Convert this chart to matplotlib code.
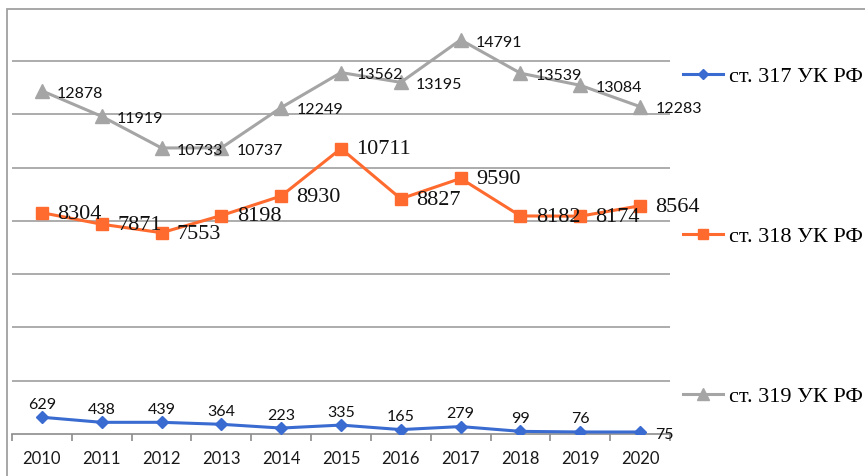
import matplotlib
matplotlib.use("Agg")
import matplotlib.pyplot as plt
from matplotlib.patches import Rectangle

years = ["2010", "2011", "2012", "2013", "2014", "2015", "2016", "2017", "2018", "2019", "2020"]
s317 = [629, 438, 439, 364, 223, 335, 165, 279, 99, 76, 75]
s318 = [8304, 7871, 7553, 8198, 8930, 10711, 8827, 9590, 8182, 8174, 8564]
s319 = [12878, 11919, 10733, 10737, 12249, 13562, 13195, 14791, 13539, 13084, 12283]
names = ["ст. 317 УК РФ", "ст. 318 УК РФ", "ст. 319 УК РФ"]

c_blue = "#3A6BD0"
c_orange = "#FF6A2F"
c_gray = "#A5A5A5"

fig = plt.figure(figsize=(8.65, 4.76), dpi=100)
fig.patch.set_facecolor("white")
ax = fig.add_axes([12/865, 1-434/476, (670-12)/865, (434-7.6)/476])
ax.set_facecolor("none")

x = list(range(len(years)))
ax.set_xlim(-0.5, len(years)-0.5)
ax.set_ylim(0, 16000)

ax.set_yticks(range(2000, 16000, 2000))
ax.yaxis.grid(True, color="#A6A6A6", linewidth=1.3)
ax.tick_params(axis="y", left=False, labelleft=False)
for s in ["top", "right", "left"]:
    ax.spines[s].set_visible(False)
ax.spines["bottom"].set_color("#8C8C8C")
ax.spines["bottom"].set_linewidth(1.2)
ax.set_xticks(x)
ax.set_xticklabels(years, fontfamily="Lato", fontsize=12, color="#1a1a1a")
ax.set_xticks([i - 0.5 for i in range(len(years)+1)], minor=True)
ax.tick_params(axis="x", which="major", length=0, pad=12)
ax.tick_params(axis="x", which="minor", length=5, color="#8C8C8C", width=1.2, direction="out")
ax.set_axisbelow(True)

l3, = ax.plot(x, s319, color=c_gray, linewidth=2.2, marker="^", markersize=10, zorder=3)
l2, = ax.plot(x, s318, color=c_orange, linewidth=2.2, marker="s", markersize=8.5, zorder=3)
l1, = ax.plot(x, s317, color=c_blue, linewidth=2.2, marker="D", markersize=6.5, zorder=3)

for xi, v in zip(x, s319):
    ax.annotate(str(v), (xi, v), xytext=(11, -2), textcoords="offset points",
                ha="left", va="center", fontfamily="Lato", fontsize=11.5, color="#111111")
for xi, v in zip(x, s318):
    ax.annotate(str(v), (xi, v), xytext=(11, -1), textcoords="offset points",
                ha="left", va="center", fontfamily="Liberation Serif", fontsize=16, color="#111111")
for i, (xi, v) in enumerate(zip(x, s317)):
    if i == len(x) - 1:
        ax.annotate(str(v), (xi, v), xytext=(11, -2), textcoords="offset points",
                    ha="left", va="center", fontfamily="Lato", fontsize=11.5, color="#111111")
    else:
        ax.annotate(str(v), (xi, v), xytext=(0, 4), textcoords="offset points",
                    ha="center", va="bottom", fontfamily="Lato", fontsize=11.5, color="#111111")

# outer frame
fig.add_artist(Rectangle((7/865, -0.2), 2, 1.2 - 9/476, transform=fig.transFigure,
                         fill=False, edgecolor="#A0A0A0", linewidth=1.3))

leg = fig.legend([l1, l2, l3], names, loc="upper left",
                 bbox_to_anchor=(683/865, 1-66/476), frameon=False,
                 prop={"family": "Liberation Serif", "size": 16},
                 labelspacing=6.28, handlelength=1.8, handletextpad=0.25,
                 borderpad=0, borderaxespad=0, markerscale=0.8)

fig.savefig("out.png", dpi=100)
